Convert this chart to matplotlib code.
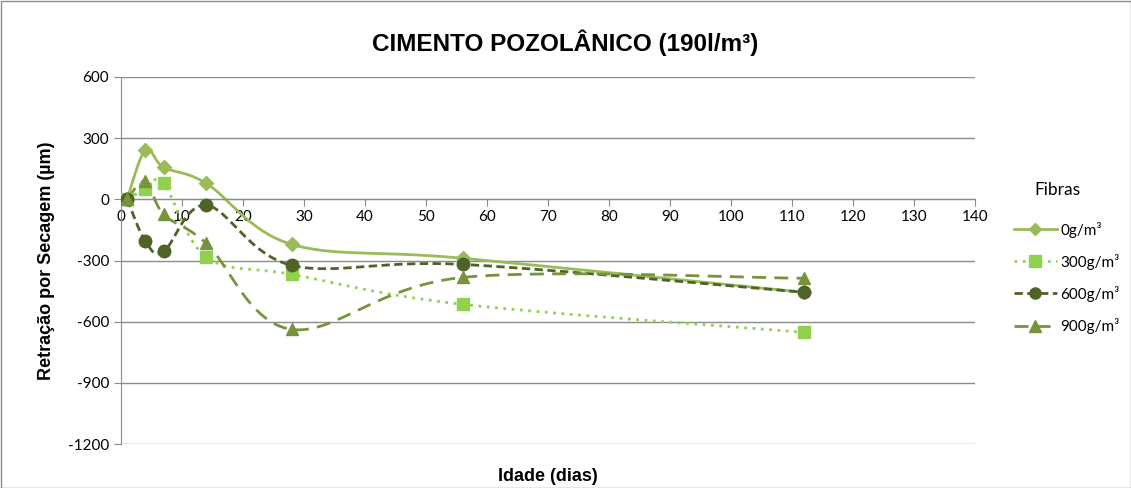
import matplotlib
matplotlib.use("Agg")
import matplotlib.pyplot as plt
from matplotlib.lines import Line2D
import numpy as np

plt.rcParams["axes.unicode_minus"] = False

# idade (dias) e retração (µm)
dias = [1, 4, 7, 14, 28, 56, 112]
f0 = [0, 242, 157, 78, -221, -289, -456]
f300 = [0, 49, 78, -284, -368, -515, -652]
f600 = [0, -206, -255, -29, -324, -319, -456]
f900 = [0, 88, -74, -216, -638, -383, -387]

labels = ["0g/m³", "300g/m³", "600g/m³", "900g/m³"]
series = [f0, f300, f600, f900]
colors = ["#9BBB59", "#92D050", "#4F6228", "#77933C"]
markers = ["D", "s", "o", "^"]
msizes = [7.5, 9, 9, 9]
styles = ["-", (0, (1, 2)), (0, (3, 1.6)), (0, (5, 3))]


def smooth(x, y, n=30):
    # excel-like smoothed line (bezier, tangents from neighbours)
    x = np.asarray(x, float)
    y = np.asarray(y, float)
    xs, ys = [], []
    for i in range(len(x) - 1):
        p0 = np.array([x[max(i - 1, 0)], y[max(i - 1, 0)]])
        p1 = np.array([x[i], y[i]])
        p2 = np.array([x[i + 1], y[i + 1]])
        p3 = np.array([x[min(i + 2, len(x) - 1)], y[min(i + 2, len(x) - 1)]])
        c1 = p1 + (p2 - p0) / 6
        c2 = p2 - (p3 - p1) / 6
        t = np.linspace(0, 1, n)[:, None]
        pts = ((1 - t) ** 3) * p1 + 3 * ((1 - t) ** 2) * t * c1 + 3 * (1 - t) * t ** 2 * c2 + t ** 3 * p2
        xs.extend(pts[:, 0])
        ys.extend(pts[:, 1])
    return xs, ys


fig = plt.figure(figsize=(11.31, 4.88), dpi=100)
ax = fig.add_axes([121 / 1131, 1 - 444 / 488, (975 - 121) / 1131, (444 - 77) / 488])

handles = []
for vals, c, m, ms, ls, lab in zip(series, colors, markers, msizes, styles, labels):
    sx, sy = smooth(dias, vals)
    ax.plot(sx, sy, color=c, lw=2, linestyle=ls, zorder=2)
    ax.plot(dias, vals, linestyle="none", marker=m, ms=ms, color=c, zorder=3)
    handles.append(Line2D([], [], color=c, lw=2, linestyle=ls, marker=m, ms=ms - 1, label=lab))

ax.set_xlim(0, 140)
ax.set_ylim(-1200, 600)
ax.set_yticks(range(-1200, 601, 300))
ax.set_xticks(range(0, 141, 10))
ax.grid(axis="y", color="#8C8C8C", lw=1)
ax.set_axisbelow(True)

for s in ["top", "right"]:
    ax.spines[s].set_visible(False)
ax.spines["left"].set_color("#8C8C8C")
ax.spines["bottom"].set_position(("data", 0))
ax.spines["bottom"].set_color("#8C8C8C")
ax.tick_params(axis="both", colors="#8C8C8C", labelcolor="black", labelsize=11, length=5)
ax.tick_params(axis="x", direction="out", pad=3)
for t in ax.get_xticklabels() + ax.get_yticklabels():
    t.set_family("Lato")

ax.set_xlabel("Idade (dias)", fontsize=13, fontweight="bold", family="Liberation Sans")
ax.xaxis.set_label_coords(0.5, -0.065)
ax.set_ylabel("Retração por Secagem (µm)", fontsize=13, fontweight="bold", family="Liberation Sans", labelpad=9)

fig.text(0.5, 1 - 43 / 488, "CIMENTO POZOLÂNICO (190l/m³)", ha="center", va="center",
         fontsize=17.5, fontweight="bold", family="Liberation Sans")

fig.legend(handles=handles, loc="upper left", bbox_to_anchor=(1000 / 1131, 1 - 208 / 488),
           frameon=False, handlelength=2.8, labelspacing=1.05, handletextpad=0.25,
           prop={"family": "Lato", "size": 11})
fig.text(1057 / 1131, 1 - 190 / 488, "Fibras", ha="center", va="center", family="Lato", fontsize=12.5)

fig.add_artist(plt.Rectangle((0.5 / 1131, 0.5 / 488), 1 - 1 / 1131, 1 - 1 / 488, transform=fig.transFigure,
                             fill=False, edgecolor="#8C8C8C", lw=1))

fig.savefig("out.png", dpi=100)
